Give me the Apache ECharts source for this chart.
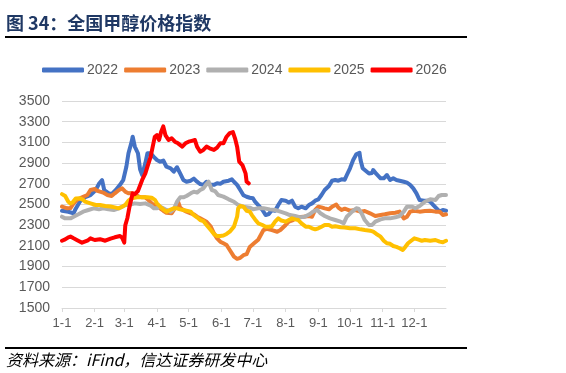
<!DOCTYPE html>
<html>
<head>
<meta charset="utf-8">
<script src="https://cdn.jsdelivr.net/npm/echarts@6/dist/echarts.min.js"></script>
<style>
html, body { margin: 0; padding: 0; background: #fff; }
#main { width: 566px; height: 373px; }
</style>
</head>
<body>
<div id="main"></div>
<script>
// day of year (0 = 1-1) -> price index
var years = ['2022', '2023', '2024', '2025', '2026'];
var colors = ['#4472C4', '#ED7D31', '#B0B0B0', '#FFC000', '#FF0000'];
var monthStarts = [0, 31, 59, 90, 120, 151, 181, 212, 243, 273, 304, 334];
var monthLabels = ['1-1', '2-1', '3-1', '4-1', '5-1', '6-1', '7-1', '8-1', '9-1', '10-1', '11-1', '12-1'];

var y2022 = [[0,2440],[6,2430],[11,2415],[13,2460],[17,2530],[22,2570],[27,2590],[32,2640],[35,2700],[38,2735],[40,2640],[44,2610],[47,2600],[51,2640],[55,2690],[58,2735],[61,2865],[63,2995],[66,3105],[67,3155],[69,3060],[72,2995],[74,2840],[76,2785],[79,2900],[81,2995],[84,2995],[87,2960],[90,2930],[93,2914],[96,2925],[99,2865],[103,2850],[106,2817],[109,2860],[112,2800],[115,2737],[118,2720],[122,2730],[125,2750],[128,2720],[131,2698],[134,2690],[137,2720],[141,2690],[144,2690],[147,2705],[150,2700],[153,2720],[158,2730],[161,2743],[163,2720],[166,2690],[169,2640],[172,2590],[175,2575],[178,2565],[181,2560],[183,2527],[186,2495],[190,2447],[193,2398],[196,2408],[199,2447],[202,2440],[205,2495],[208,2543],[212,2537],[215,2520],[218,2537],[221,2479],[224,2463],[227,2479],[231,2463],[234,2495],[237,2511],[240,2537],[243,2550],[246,2592],[249,2640],[253,2679],[256,2730],[259,2737],[262,2730],[265,2743],[268,2740],[270,2785],[273,2850],[276,2930],[279,2985],[282,3000],[283,2930],[285,2850],[287,2833],[291,2800],[294,2805],[295,2833],[298,2795],[302,2753],[305,2753],[308,2785],[311,2737],[314,2753],[317,2737],[320,2730],[324,2720],[327,2711],[330,2690],[333,2656],[336,2608],[339,2543],[343,2537],[346,2537],[349,2527],[352,2495],[355,2463],[358,2431],[361,2447],[364,2440]];

var y2023 = [[0,2479],[5,2463],[8,2465],[11,2511],[14,2543],[19,2569],[24,2592],[27,2640],[31,2650],[33,2635],[36,2624],[39,2615],[43,2592],[47,2582],[50,2608],[54,2640],[57,2656],[60,2624],[63,2608],[66,2610],[69,2600],[73,2576],[76,2569],[79,2569],[82,2543],[85,2510],[88,2490],[90,2479],[93,2463],[96,2440],[99,2420],[104,2415],[108,2480],[110,2527],[112,2470],[115,2447],[118,2431],[122,2415],[125,2405],[128,2382],[131,2366],[134,2350],[137,2334],[141,2286],[144,2221],[147,2173],[150,2141],[153,2125],[156,2109],[159,2060],[163,1996],[166,1975],[169,1985],[172,2010],[175,2020],[178,2090],[182,2125],[186,2160],[191,2253],[194,2265],[199,2253],[204,2237],[207,2253],[212,2302],[215,2334],[219,2350],[224,2376],[229,2382],[234,2389],[237,2382],[240,2447],[243,2479],[246,2472],[249,2463],[253,2453],[256,2479],[260,2500],[262,2470],[265,2447],[268,2460],[273,2440],[278,2447],[283,2431],[287,2437],[292,2415],[297,2389],[302,2399],[306,2405],[311,2415],[316,2420],[320,2431],[324,2366],[327,2382],[330,2431],[334,2440],[339,2431],[344,2437],[349,2440],[354,2431],[358,2431],[361,2399],[364,2405]];

var y2024 = [[0,2382],[3,2366],[8,2366],[11,2382],[16,2408],[20,2431],[25,2447],[30,2463],[35,2453],[39,2463],[44,2453],[49,2447],[54,2463],[57,2479],[60,2495],[63,2495],[69,2511],[74,2505],[79,2511],[84,2490],[87,2463],[90,2463],[93,2479],[96,2463],[99,2447],[103,2431],[106,2456],[109,2527],[112,2569],[115,2569],[118,2582],[122,2608],[125,2624],[128,2615],[131,2640],[134,2656],[137,2698],[139,2720],[142,2640],[145,2630],[148,2592],[153,2576],[158,2550],[163,2527],[167,2495],[172,2479],[178,2470],[181,2453],[186,2463],[191,2463],[197,2453],[202,2447],[207,2431],[212,2415],[216,2398],[221,2389],[226,2376],[230,2382],[235,2408],[238,2431],[242,2447],[245,2415],[249,2389],[254,2366],[259,2350],[264,2334],[267,2318],[270,2382],[275,2431],[279,2463],[281,2460],[284,2415],[287,2350],[291,2302],[294,2302],[297,2334],[302,2356],[306,2366],[311,2366],[316,2376],[320,2389],[324,2431],[327,2479],[332,2479],[335,2463],[339,2485],[344,2527],[349,2550],[354,2543],[357,2582],[360,2592],[364,2592]];

var y2025 = [[0,2600],[3,2582],[6,2527],[8,2510],[10,2520],[13,2559],[17,2560],[20,2545],[22,2527],[27,2511],[32,2495],[36,2495],[41,2485],[46,2480],[50,2472],[54,2463],[57,2479],[60,2495],[63,2537],[66,2559],[71,2569],[76,2569],[81,2569],[85,2565],[88,2545],[90,2511],[93,2479],[96,2453],[99,2431],[103,2450],[106,2463],[109,2463],[112,2453],[115,2447],[118,2440],[122,2431],[125,2398],[128,2376],[131,2350],[134,2340],[137,2302],[141,2253],[144,2215],[147,2195],[150,2195],[153,2200],[156,2215],[159,2237],[163,2286],[166,2382],[167,2463],[169,2485],[172,2479],[175,2440],[178,2431],[180,2398],[183,2356],[186,2318],[190,2302],[193,2286],[196,2286],[199,2290],[202,2334],[205,2366],[208,2345],[212,2334],[215,2350],[218,2366],[221,2356],[224,2350],[227,2318],[231,2286],[234,2286],[237,2270],[240,2260],[243,2270],[246,2286],[249,2302],[253,2302],[256,2286],[259,2290],[264,2280],[268,2278],[273,2270],[278,2270],[283,2260],[287,2253],[292,2247],[295,2237],[298,2215],[302,2189],[305,2150],[308,2125],[311,2120],[314,2099],[317,2090],[320,2077],[323,2060],[325,2085],[328,2125],[331,2150],[334,2173],[338,2160],[341,2150],[344,2157],[349,2150],[354,2157],[358,2141],[361,2135],[364,2150]];

var y2026 = [[0,2150],[3,2163],[6,2183],[8,2190],[11,2173],[14,2157],[19,2131],[24,2150],[27,2173],[31,2157],[36,2165],[41,2150],[46,2170],[50,2183],[55,2195],[57,2180],[59,2132],[60,2300],[62,2370],[64,2479],[67,2608],[69,2600],[72,2630],[76,2737],[79,2801],[81,2865],[84,2960],[86,3059],[88,3155],[90,3171],[92,3123],[94,3203],[96,3255],[98,3171],[101,3123],[104,3140],[107,3107],[110,3091],[114,3059],[117,3091],[120,3107],[123,3115],[126,3123],[128,3059],[131,3010],[134,3027],[137,3059],[140,3043],[144,3027],[147,3050],[150,3091],[153,3091],[156,3155],[159,3190],[162,3200],[164,3139],[166,3059],[168,2914],[171,2881],[174,2801],[175,2720],[177,2705]];

var seriesData = [y2022, y2023, y2024, y2025, y2026];

var chart = echarts.init(document.getElementById('main'));

var series = [];
years.forEach(function (y, i) {
    series.push({
        name: y,
        type: 'line',
        data: seriesData[i],
        symbol: 'none',
        smooth: false,
        lineStyle: { color: colors[i], width: 4, cap: 'round', join: 'round' },
        itemStyle: { color: colors[i] }
    });
});

var option = {
    animation: false,
    backgroundColor: '#fff',
    textStyle: { fontFamily: 'Liberation Sans, Arial, sans-serif' },
    graphic: [
        {
            type: 'text', left: 6, top: 14,
            style: {
                text: '图 34：全国甲醇价格指数',
                fill: '#1F3864',
                font: 'bold 18px "Noto Sans CJK SC"'
            }
        },
        {
            type: 'rect', shape: { x: 5, y: 36, width: 462, height: 2 },
            style: { fill: '#000' }
        },
        {
            type: 'rect', shape: { x: 5, y: 347, width: 462, height: 2 },
            style: { fill: '#000' }
        },
        {
            type: 'text', left: 6, top: 352,
            style: {
                text: '资料来源：iFind，信达证券研发中心',
                fill: '#000',
                font: 'italic 16px "Noto Sans CJK SC"'
            }
        }
    ],
    legend: {
        data: years,
        left: 37,
        top: 58,
        icon: 'roundRect',
        itemWidth: 42,
        itemHeight: 5,
        itemGap: 6,
        textStyle: { color: '#595959', fontSize: 14, padding: [0, 0, 0, -2] }
    },
    grid: { left: 62, right: 120, top: 101, bottom: 65, containLabel: false },
    xAxis: {
        type: 'value',
        min: 0,
        max: 364,
        splitLine: { show: false },
        axisLine: { show: true, lineStyle: { color: '#D9D9D9', width: 1 } },
        axisTick: { show: true, customValues: monthStarts, length: 4, lineStyle: { color: '#D9D9D9' } },
        axisLabel: {
            customValues: monthStarts,
            color: '#595959',
            fontSize: 13,
            margin: 9,
            formatter: function (v) {
                var k = monthStarts.indexOf(v);
                return k >= 0 ? monthLabels[k] : '';
            }
        }
    },
    yAxis: {
        type: 'value',
        min: 1500,
        max: 3500,
        interval: 200,
        axisLine: { show: false },
        axisTick: { show: false },
        splitLine: { lineStyle: { color: '#D9D9D9', width: 1 } },
        axisLabel: {
            color: '#595959', fontSize: 14, margin: 12,
            formatter: function (v) { return String(v); }
        }
    },
    series: series
};

option && chart.setOption(option);
</script>
</body>
</html>
